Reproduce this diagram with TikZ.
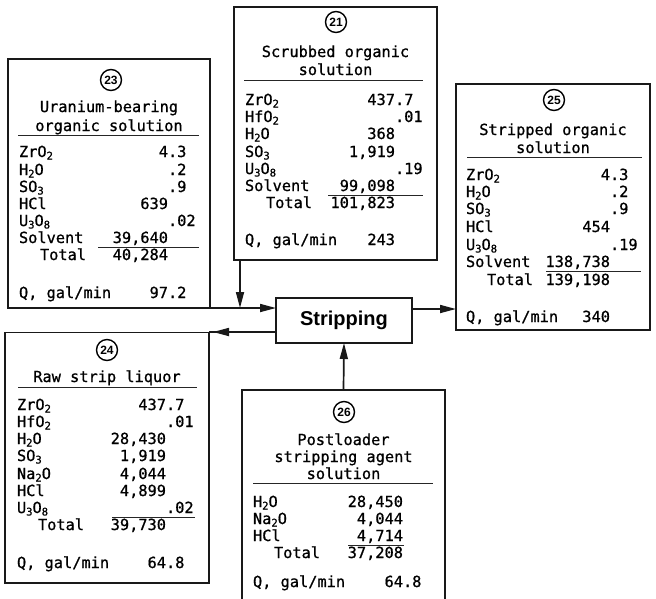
\documentclass[tikz,border=0pt]{standalone}
\usepackage{fontspec}
\setmonofont[FakeBold=0.8]{DejaVu Sans Mono}
\newfontfamily\hv{Liberation Sans}
\usetikzlibrary{arrows.meta}
\newcommand\sub[1]{\raisebox{-2.5pt}{\fontsize{10.5}{10}\selectfont #1}}
\newcommand\ent[7]{%
  \node[txt,anchor=base west] (#1l) at (#2,#3) {#4};
  \node[txt,anchor=base east] (#1i) at (#5,#3) {#6};
  \node[txt,anchor=base west] (#1f) at (#5,#3) {#7};}
\begin{document}
\begin{tikzpicture}[x=1pt,y=-1pt,
  box/.style={draw=black!90,line width=1.7pt,anchor=north west,inner sep=0,outer sep=0},
  sbox/.style={draw=black!90,line width=1.7pt,inner sep=0,outer sep=0,minimum width=136pt,minimum height=45pt,font=\hv\bfseries\fontsize{20}{20}\selectfont},
  txt/.style={inner sep=0,outer sep=0,font=\fontsize{15.3}{17}\ttfamily},
  num/.style={draw,circle,line width=1.4pt,inner sep=0,minimum size=21pt,font=\hv\bfseries\fontsize{12}{12}\selectfont},
  rule/.style={line width=1pt,draw=black!85},
  line/.style={line width=1.7pt,draw=black!90},
  flow/.style={line width=1.7pt,draw=black!90,-{Triangle[length=16pt,width=8pt]}},
]
\useasboundingbox (0,0) rectangle (656,598);
\clip (0,0) rectangle (656,598);
\fill[white] (0,0) rectangle (656,598);

% boxes
\node[box,minimum width=203pt,minimum height=253pt] (b21) at (234,7) {};
\node[box,minimum width=202pt,minimum height=249pt] (b23) at (8,59) {};
\node[box,minimum width=194pt,minimum height=246pt] (b25) at (456,84) {};
\node[box,minimum width=204pt,minimum height=250.5pt] (b24) at (5,332.5) {};
\node[box,minimum width=203pt,minimum height=230pt] (b26) at (242,390) {};
\node[sbox] (strip) at (344,320.5) {Stripping};

% ---- box 21
\node[num] (c21) at (336,22) {21};
\node[txt,anchor=base] (t21a) at (335.5,57) {Scrubbed organic};
\node[txt,anchor=base] (t21b) at (335.5,75) {solution};
\draw[rule] (244,80) -- (423,80);
\ent{r21a}{245}{105}{ZrO\sub{2}}{395}{437}{.7}
\ent{r21b}{245}{122}{HfO\sub{2}}{395}{}{.01}
\ent{r21c}{245}{139}{H\sub{2}O}{395}{368}{}
\ent{r21d}{245}{157}{SO\sub{3}}{395}{1,919}{}
\ent{r21e}{245}{174}{U\sub{3}O\sub{8}}{395}{}{.19}
\ent{r21f}{245}{191}{Solvent}{395}{99,098}{}
\draw[rule] (328,195) -- (423,195);
\ent{r21g}{266}{208}{Total}{395}{101,823}{}
\ent{r21h}{245}{245}{Q, gal/min}{395}{243}{}

% ---- box 23
\node[num] (c23) at (111,80) {23};
\node[txt,anchor=base] (t23a) at (109,112) {Uranium-bearing};
\node[txt,anchor=base] (t23b) at (109,131) {organic solution};
\draw[rule] (18,135) -- (199,135);
\ent{r23a}{19}{157}{ZrO\sub{2}}{168}{4}{.3}
\ent{r23b}{19}{175}{H\sub{2}O}{168}{}{.2}
\ent{r23c}{19}{192}{SO\sub{3}}{168}{}{.9}
\ent{r23d}{19}{209}{HCl}{168}{639}{}
\ent{r23e}{19}{226}{U\sub{3}O\sub{8}}{168}{}{.02}
\ent{r23f}{19}{243}{Solvent}{168}{39,640}{}
\draw[rule] (98,247) -- (199,247);
\ent{r23g}{40}{260}{Total}{168}{40,284}{}
\ent{r23h}{19}{298}{Q, gal/min}{168}{97}{.2}

% ---- box 25
\node[num] (c25) at (554,100) {25};
\node[txt,anchor=base] (t25a) at (553,135) {Stripped organic};
\node[txt,anchor=base] (t25b) at (553,153) {solution};
\draw[rule] (467,157) -- (642,157);
\ent{r25a}{466}{180}{ZrO\sub{2}}{610}{4}{.3}
\ent{r25b}{466}{197}{H\sub{2}O}{610}{}{.2}
\ent{r25c}{466}{214}{SO\sub{3}}{610}{}{.9}
\ent{r25d}{466}{232}{HCl}{610}{454}{}
\ent{r25e}{466}{250}{U\sub{3}O\sub{8}}{610}{}{.19}
\ent{r25f}{466}{267}{Solvent}{610}{138,738}{}
\draw[rule] (546,271) -- (641,271);
\ent{r25g}{487}{285}{Total}{610}{139,198}{}
\ent{r25h}{466}{322}{Q, gal/min}{610}{340}{}

% ---- box 24
\node[num] (c24) at (107,350) {24};
\node[txt,anchor=base] (t24a) at (107,382) {Raw strip liquor};
\draw[rule] (18,387) -- (197,387);
\ent{r24a}{17}{410}{ZrO\sub{2}}{166}{437}{.7}
\ent{r24b}{17}{427}{HfO\sub{2}}{166}{}{.01}
\ent{r24c}{17}{444}{H\sub{2}O}{166}{28,430}{}
\ent{r24d}{17}{461}{SO\sub{3}}{166}{1,919}{}
\ent{r24e}{17}{479}{Na\sub{2}O}{166}{4,044}{}
\ent{r24f}{17}{496}{HCl}{166}{4,899}{}
\ent{r24g}{17}{513}{U\sub{3}O\sub{8}}{166}{}{.02}
\draw[rule] (112,517) -- (195,517);
\ent{r24h}{38}{530}{Total}{166}{39,730}{}
\ent{r24i}{17}{568}{Q, gal/min}{166}{64}{.8}

% ---- box 26
\node[num] (c26) at (344,412) {26};
\node[txt,anchor=base] (t26a) at (343.5,445) {Postloader};
\node[txt,anchor=base] (t26b) at (343.5,462) {stripping agent};
\node[txt,anchor=base] (t26c) at (343.5,479) {solution};
\draw[rule] (253,483) -- (433,483);
\ent{r26a}{253}{507}{H\sub{2}O}{403}{28,450}{}
\ent{r26b}{253}{524}{Na\sub{2}O}{403}{4,044}{}
\ent{r26c}{253}{541}{HCl}{403}{4,714}{}
\draw[rule] (348,545) -- (404,545);
\ent{r26d}{274}{558}{Total}{403}{37,208}{}
\ent{r26e}{253}{587}{Q, gal/min}{403}{64}{.8}

% ---- connectors
\coordinate (m21) at ([xshift=6pt]b21.south west);
\draw[flow] (m21) -- (m21 |- b23.south);
\draw[flow] (b23.south east) -- (b23.south east -| strip.west);
\coordinate (o25) at ([yshift=11.5pt]strip.east);
\draw[flow] (o25) -- (o25 -| b25.west);
\coordinate (o24) at ([yshift=-11.5pt]strip.west);
\draw[line] (o24) -- (o24 -| b24.east);
\draw[flow,shorten >=4pt] (o24) -- (o24 -| b24.east);
\draw[flow] (b26.north) -- (strip.south);
\end{tikzpicture}
\end{document}
